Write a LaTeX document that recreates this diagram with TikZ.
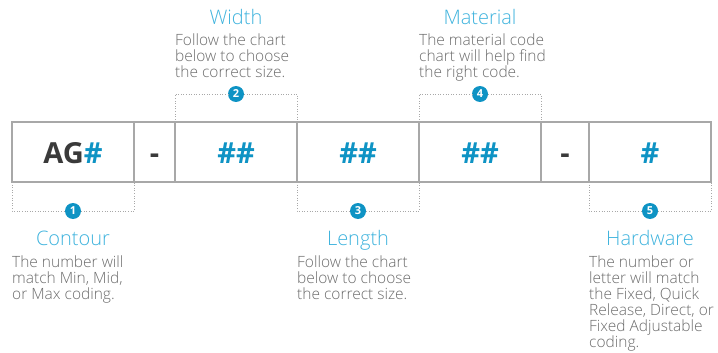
\documentclass[tikz,border=0pt]{standalone}
\usepackage{fontspec}
\setmainfont{Open Sans}[UprightFont=* Light, BoldFont=* Bold]
\usetikzlibrary{positioning}
\definecolor{codeblue}{HTML}{0E93C4}
\definecolor{titleblue}{HTML}{3FB3DD}
\definecolor{textgray}{HTML}{6B6B6B}
\definecolor{markgray}{HTML}{3A3A3A}
\definecolor{linegray}{HTML}{A8A8A8}
\begin{document}
\begin{tikzpicture}[x=1pt, y=-1pt,
  field/.style={draw=linegray, line width=1.2pt, minimum height=60pt, inner sep=0pt, outer sep=0pt,
    text height=23pt, text depth=0pt, text=codeblue, font=\fontsize{29}{29}\selectfont\bfseries},
  gap/.style={field, text=markgray},
  num/.style={circle, fill=codeblue, text=white, minimum size=16pt, inner sep=0pt,
    font=\fontsize{11}{11}\selectfont\bfseries},
  bracket/.style={draw=linegray, line width=0.6pt, dotted},
  title/.style={anchor=base, inner sep=0pt, text=titleblue, font=\fontsize{20}{20}\selectfont},
  desc/.style={anchor=north west, align=left, inner sep=0pt, text=textgray, font=\fontsize{15.5}{16}\selectfont}]
  \useasboundingbox (0,0) rectangle (718,353);
  % code fields
  \node [field, minimum width=122pt, anchor=north west] (contour) at (12,122) {\textcolor{markgray}{AG}\#};
  \node [gap, minimum width=41pt, right=0pt of contour] (dash1) {-};
  \node [field, minimum width=122pt, right=0pt of dash1] (width) {\#\#};
  \node [field, minimum width=122pt, right=0pt of width] (length) {\#\#};
  \node [field, minimum width=122pt, right=0pt of length] (material) {\#\#};
  \node [gap, minimum width=48pt, right=0pt of material] (dash2) {-};
  \node [field, minimum width=122pt, right=0pt of dash2] (hardware) {\#};
  % markers below
  \node [num] (n1) at ([yshift=-29pt]contour.south) {1};
  \node [num] (n3) at ([yshift=-29pt]length.south) {3};
  \node [num] (n5) at ([yshift=-29pt]hardware.south) {5};
  \draw [bracket] (contour.south west) |- (n1) -| (contour.south east);
  \draw [bracket] (length.south west) |- (n3) -| (length.south east);
  \draw [bracket] (hardware.south west) |- (n5) -| (hardware.south east);
  % markers above
  \node [num] (n2) at ([yshift=28pt]width.north) {2};
  \node [num] (n4) at ([yshift=28pt]material.north) {4};
  \draw [bracket] (width.north west) |- (n2) -| (width.north east);
  \draw [bracket] (material.north west) |- (n4) -| (material.north east);
  % labels
  \node [title] (contourtitle) at (contour.center |- 0,245) {Contour};
  \node [desc] (contourtext) at (contour.west |- 0,255.5) {The number will\\match Min, Mid,\\or Max coding.};
  \node [title] (lengthtitle) at (length.center |- 0,245) {Length};
  \node [desc] (lengthtext) at (length.west |- 0,255.5) {Follow the chart\\below to choose\\the correct size.};
  \node [title] (hardwaretitle) at (hardware.center |- 0,245) {Hardware};
  \node [desc] (hardwaretext) at (hardware.west |- 0,255.5) {The number or\\letter will match\\the Fixed, Quick\\Release, Direct, or\\Fixed Adjustable\\coding.};
  \node [title] (widthtitle) at (width.center |- 0,24.5) {Width};
  \node [desc] (widthtext) at (width.west |- 0,33.5) {Follow the chart\\below to choose\\the correct size.};
  \node [title] (materialtitle) at (material.center |- 0,24.5) {Material};
  \node [desc] (materialtext) at (material.west |- 0,33.5) {The material code\\chart will help find\\the right code.};
\end{tikzpicture}
\end{document}
